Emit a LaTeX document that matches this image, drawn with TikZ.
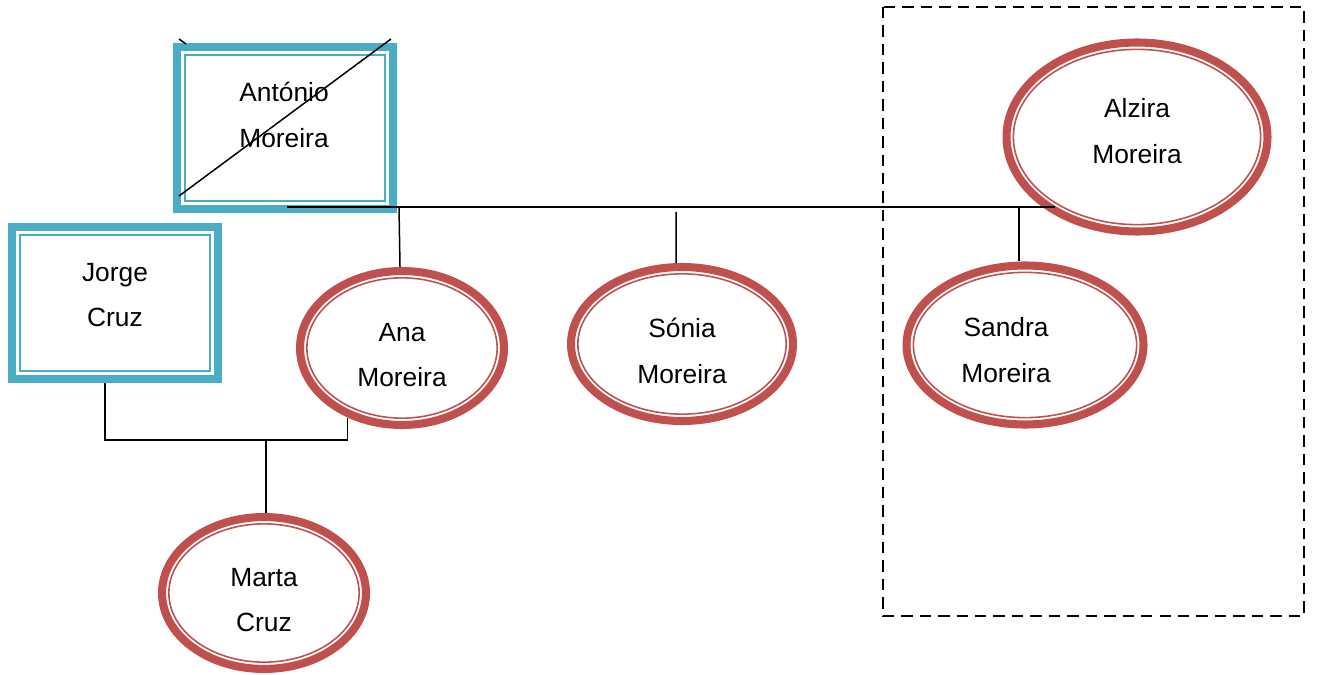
\documentclass[tikz,border=0pt]{standalone}
\usepackage{fontspec}
\setmainfont{Liberation Sans}
\usetikzlibrary{calc,shapes.geometric}

\definecolor{azul}{RGB}{75,172,198}
\definecolor{vermelho}{RGB}{192,80,77}

\tikzset{
  homem/.style={rectangle, draw=azul, line width=4.6pt},
  mulher/.style={ellipse, draw=vermelho, line width=4.6pt},
  nome/.style={align=center, inner sep=0pt, font=\fontsize{15pt}{26pt}\selectfont},
  linha/.style={line width=0.85pt}
}

\begin{document}
\begin{tikzpicture}[x=0.02cm, y=-0.02cm]
  \useasboundingbox (0,0) rectangle (1317,675);

  \newcommand{\homem}[6]{
    \node[homem, minimum width=#3, minimum height=#4] (#1) at (#2) {};
    \draw[azul, line width=0.9pt]
    ($(#1.north west) + (12,12)$) rectangle ($(#1.south east) + (-12,-12)$);
    \node[nome] (#1-nome) at (#5) {#6};
  };

  \newcommand{\mulher}[6]{
    \node[mulher, minimum width=#3, minimum height=#4] (#1) at (#2) {};
    \draw[vermelho, line width=0.9pt]
    let \p1 = ($(#1.east) - (#1.center)$), \p2 = ($(#1.north) - (#1.center)$) in
    (#1.center) ellipse ({\x1 - 6.2pt} and {\y2 - 6.2pt});
    \node[nome] (#1-nome) at (#5) {#6};
  };

  \homem{antonio}{285,128}{4.32cm}{3.24cm}{284,115}{António\\Moreira};
  \homem{jorge}{115,303}{4.12cm}{3.04cm}{115,295}{Jorge\\Cruz};
  \mulher{alzira}{1137,137}{5.22cm}{3.78cm}{1137,131}{Alzira\\Moreira};
  \mulher{ana}{402,348}{4.08cm}{3.08cm}{402,355}{Ana\\Moreira};
  \mulher{sonia}{682,344}{4.44cm}{3.08cm}{682,351}{Sónia\\Moreira};
  \mulher{sandra}{1025,345}{4.74cm}{3.18cm}{1006,350}{Sandra\\Moreira};
  \mulher{marta}{264,593}{4.08cm}{3.04cm}{264,600}{Marta\\Cruz};

  % risco sobre o Antonio
  \draw[linha] ([shift={(6,-17)}]antonio.south west) -- ([shift={(-6,-4)}]antonio.north east);
  \draw[linha] ([shift={(6,-4)}]antonio.north west) -- ++(7,5);

  % casal e filhas
  \coordinate (uniao) at (287,207);
  \coordinate (uniao-fim) at (1055,207);
  \draw[linha] (uniao) -- (uniao-fim);
  \draw[linha] ([xshift=-0.06cm]ana.north |- uniao) -- ([xshift=-0.04cm]ana.north);
  \draw[linha] ([shift={(-6,5)}]sonia.north |- uniao) -- ([xshift=-0.12cm]sonia.north);
  \draw[linha] ([xshift=-0.12cm]sandra.north |- uniao) -- ([xshift=-0.12cm]sandra.north);

  % Jorge e Ana
  \coordinate (filhos) at (266,440);
  \draw[linha] ([xshift=-0.2cm]jorge.south) |- (filhos) -| (ana.232);
  \draw[linha] (filhos) -- (filhos |- marta.north);

  \draw[line width=0.9pt, dash pattern=on 6.5pt off 4pt] (883,7) rectangle (1304,616);

\end{tikzpicture}
\end{document}
